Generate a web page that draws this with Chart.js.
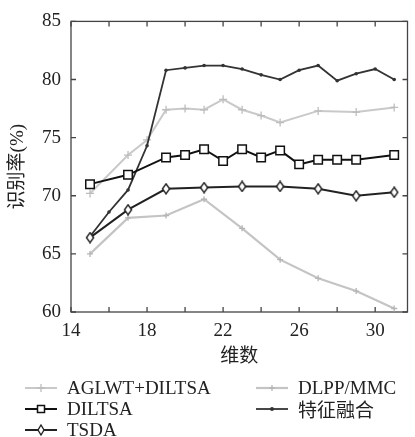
<!DOCTYPE html>
<html>
<head>
<meta charset="utf-8">
<script src="https://cdn.jsdelivr.net/npm/chart.js@4.4.1/dist/chart.umd.min.js"></script>
<style>
  html, body { margin: 0; padding: 0; background: #fff; }
  #wrap { position: relative; width: 415px; height: 437px; }
  #chart { position: absolute; left: 0; top: 0; }
  .item { position: absolute; height: 21px; display: flex; align-items: center;
          font: 19px "Liberation Serif", "Noto Sans CJK SC", serif; color: #222; white-space: nowrap; }
  .item svg { margin-right: 10px; }
</style>
</head>
<body>
<div id="wrap">
  <canvas id="chart" width="415" height="437"></canvas>
  <div id="legend"></div>
</div>
<script>
// dimensions (x) for each curve
const dimsAll = [15, 16, 17, 18, 19, 20, 21, 22, 23, 24, 25, 26, 27, 28, 29, 30, 31];
const dimsOdd = [15, 17, 19, 21, 23, 25, 27, 29, 31];
const dimsAglwt = [15, 17, 18, 19, 20, 21, 22, 23, 24, 25, 27, 29, 31];
const dimsDiltsa = [15, 17, 19, 20, 21, 22, 23, 24, 25, 26, 27, 28, 29, 31];

// recognition rate (%)
const aglwtDiltsa = [70.2, 73.5, 74.8, 77.4, 77.5, 77.4, 78.3, 77.4, 76.9, 76.3, 77.3, 77.2, 77.6];
const diltsa = [71.0, 71.8, 73.3, 73.5, 74.0, 73.0, 74.0, 73.3, 73.9, 72.7, 73.1, 73.1, 73.1, 73.5];
const tsda = [66.4, 68.8, 70.6, 70.7, 70.8, 70.8, 70.6, 70.0, 70.3];
const dlppMmc = [65.0, 68.1, 68.3, 69.7, 67.2, 64.5, 62.9, 61.8, 60.3];
const fusion = [66.5, 68.6, 70.5, 74.3, 80.8, 81.0, 81.2, 81.2, 80.9, 80.4, 80.0, 80.8, 81.2, 79.9, 80.5, 80.9, 80.0];

const xTickLabels = [14, 18, 22, 26, 30];
const xMinorTicks = [14, 16, 18, 20, 22, 24, 26, 28, 30];
const yTicks = [60, 65, 70, 75, 80, 85];

const pts = (xs, ys) => xs.map((x, i) => ({ x: x, y: ys[i] }));

// narrow open diamond used by TSDA
function diamond() {
    const c = document.createElement('canvas');
    c.width = 10; c.height = 12;
    const g = c.getContext('2d');
    g.beginPath();
    g.moveTo(5, 1); g.lineTo(8.6, 6); g.lineTo(5, 11); g.lineTo(1.4, 6); g.closePath();
    g.fillStyle = '#fff'; g.fill();
    g.strokeStyle = '#222'; g.lineWidth = 1.4; g.stroke();
    return c;
}

Chart.defaults.font.family = "'Liberation Serif', 'Noto Sans CJK SC', serif";
Chart.defaults.font.size = 19;
Chart.defaults.color = '#222';

const datasets = [
    { label: 'AGLWT+DILTSA', data: pts(dimsAglwt, aglwtDiltsa), borderColor: '#c9c9c9', borderWidth: 2,
      pointStyle: 'cross', pointRadius: 4, pointBorderColor: '#bdbdbd', pointBorderWidth: 1.3, order: 5 },
    { label: 'DILTSA', data: pts(dimsDiltsa, diltsa), borderColor: '#111', borderWidth: 2,
      pointStyle: 'rect', pointRadius: 6, pointBackgroundColor: '#fff', pointBorderColor: '#111', pointBorderWidth: 1.5, order: 1 },
    { label: 'TSDA', data: pts(dimsOdd, tsda), borderColor: '#222', borderWidth: 2,
      pointStyle: diamond(), pointRadius: 5, order: 2, legendShape: 'diamond' },
    { label: 'DLPP/MMC', data: pts(dimsOdd, dlppMmc), borderColor: '#c4c4c4', borderWidth: 2.2,
      pointStyle: 'cross', pointRadius: 3, pointBorderColor: '#b5b5b5', pointBorderWidth: 1.3, order: 4 },
    { label: '特征融合', data: pts(dimsAll, fusion), borderColor: '#333', borderWidth: 1.8,
      pointStyle: 'circle', pointRadius: 1.8, pointBackgroundColor: '#333', pointBorderColor: '#333', pointBorderWidth: 0, order: 3 }
];

// box around the plot with inward tick marks
const frame = {
    id: 'frame',
    beforeDatasetsDraw(chart) {
        const { ctx, chartArea: a, scales: { x, y } } = chart;
        ctx.save();
        ctx.strokeStyle = '#444';
        ctx.lineWidth = 1.3;
        ctx.strokeRect(a.left, a.top, a.right - a.left, a.bottom - a.top);
        ctx.beginPath();
        xMinorTicks.forEach(v => {
            const px = x.getPixelForValue(v);
            ctx.moveTo(px, a.bottom); ctx.lineTo(px, a.bottom - 5);
            ctx.moveTo(px, a.top); ctx.lineTo(px, a.top + 5);
        });
        yTicks.forEach(v => {
            const py = y.getPixelForValue(v);
            ctx.moveTo(a.left, py); ctx.lineTo(a.left + 5, py);
            ctx.moveTo(a.right, py); ctx.lineTo(a.right - 5, py);
        });
        ctx.stroke();
        ctx.restore();
    }
};

new Chart(document.getElementById('chart'), {
    type: 'line',
    data: { datasets: datasets },
    options: {
        responsive: false,
        animation: false,
        layout: { padding: { top: 19, right: 4, bottom: 67, left: 0 } },
        plugins: { legend: { display: false }, tooltip: { enabled: false } },
        elements: { line: { tension: 0, fill: false } },
        scales: {
            x: {
                type: 'linear', min: 14, max: 31.7,
                grid: { display: false, drawTicks: false },
                border: { display: false },
                afterBuildTicks: s => { s.ticks = xMinorTicks.map(v => ({ value: v })); },
                afterFit: s => { s.height = 58; },
                ticks: {
                    padding: 8, maxRotation: 0, autoSkip: false,
                    callback: v => xTickLabels.includes(v) ? String(v) : ''
                },
                title: { display: true, text: '维数', padding: { top: 0, bottom: 2 } }
            },
            y: {
                min: 60, max: 85,
                grid: { display: false, drawTicks: false },
                border: { display: false },
                afterBuildTicks: s => { s.ticks = yTicks.map(v => ({ value: v })); },
                afterFit: s => { s.width = 71; },
                ticks: { padding: 10 },
                title: { display: true, text: '识别率(%)', padding: { top: 7, bottom: 0 } }
            }
        }
    },
    plugins: [frame]
});

// legend: two columns, filled column-wise
function marker(ds) {
    const c = ds.borderColor;
    let m = '';
    if (ds.pointStyle === 'cross') m = `<path d="M16 ${7 - ds.pointRadius}V${7 + ds.pointRadius}M${16 - ds.pointRadius} 7H${16 + ds.pointRadius}" stroke="${ds.pointBorderColor}" stroke-width="1.3"/>`;
    if (ds.pointStyle === 'rect') m = `<rect x="12.5" y="3.5" width="7" height="7" fill="#fff" stroke="${c}" stroke-width="1.5"/>`;
    if (ds.legendShape === 'diamond') m = `<polygon points="16,2 19,7 16,12 13,7" fill="#fff" stroke="${c}" stroke-width="1.4"/>`;
    if (ds.pointStyle === 'circle') m = `<circle cx="16" cy="7" r="2" fill="${c}"/>`;
    return `<svg width="32" height="14"><line x1="0" y1="7" x2="32" y2="7" stroke="${c}" stroke-width="${ds.borderWidth}"/>${m}</svg>`;
}
const legend = document.getElementById('legend');
datasets.forEach((ds, i) => {
    const col = i < 3 ? 0 : 1, row = i < 3 ? i : i - 3;
    const el = document.createElement('div');
    el.className = 'item';
    el.style.left = (col === 0 ? 25 : 256) + 'px';
    el.style.top = (377 + row * 21) + 'px';
    el.innerHTML = marker(ds) + '<span>' + ds.label + '</span>';
    legend.appendChild(el);
});
</script>
</body>
</html>
